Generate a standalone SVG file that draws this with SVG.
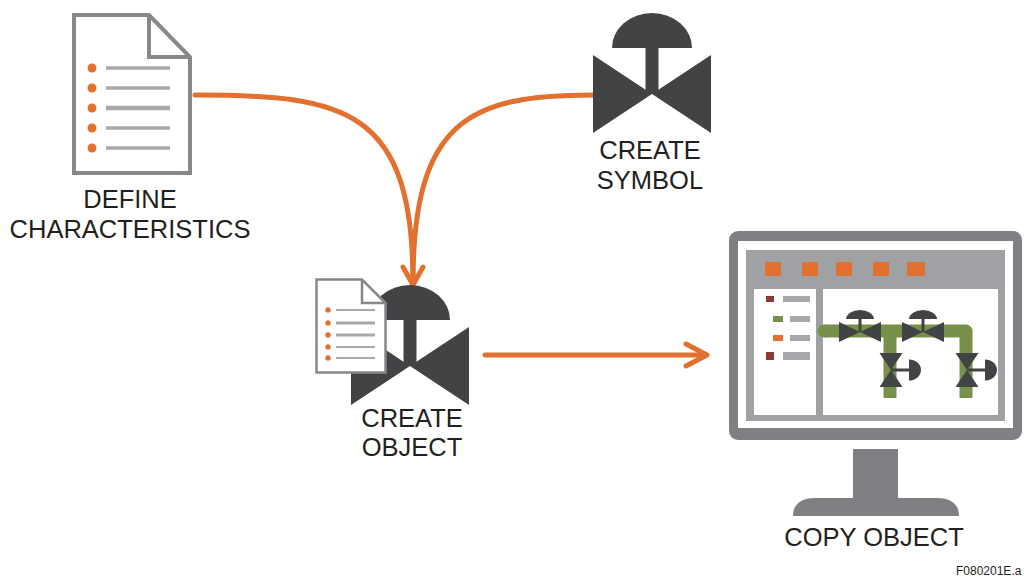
<svg xmlns="http://www.w3.org/2000/svg" xmlns:xlink="http://www.w3.org/1999/xlink" width="1028" height="579" viewBox="0 0 1028 579">
  <style>
    .label { font-family: "Liberation Sans", Arial, sans-serif; font-size: 25.5px; fill: #231f20; text-anchor: middle; }
    .code { font-family: "Liberation Sans", Arial, sans-serif; font-size: 12px; fill: #231f20; }
    .doc { fill: #ffffff; stroke: #87888b; stroke-linejoin: miter; }
    .bullet { fill: #e2712f; }
    .rule { stroke: #a7a8ab; }
    .flow { fill: none; stroke: #e2712f; stroke-width: 5; stroke-linecap: round; stroke-linejoin: round; }
    .valve { fill: #424345; }
    .pipe { fill: none; stroke: #78914a; stroke-width: 13; stroke-linecap: butt; stroke-linejoin: round; }
  </style>
  <defs>
    <!-- large valve symbol, centred on the body apex -->
    <g id="valve-big" class="valve">
      <path d="M-40,-46 A40,35 0 0 1 40,-46 Z"/>
      <rect x="-6.5" y="-47" width="13" height="47"/>
      <path d="M-59,-39 L0,0 L-59,39 Z M59,-39 L0,0 L59,39 Z"/>
    </g>
    <!-- inline valve on a horizontal pipe -->
    <g id="valve-h" class="valve">
      <path d="M-14,-13 A14,9 0 0 1 14,-13 Z"/>
      <rect x="-1.5" y="-13" width="3" height="13"/>
      <path d="M-21,-10 L0,0 L-21,10 Z M21,-10 L0,0 L21,10 Z"/>
    </g>
    <!-- inline valve on a vertical pipe, actuator to the right -->
    <g id="valve-v" class="valve">
      <path d="M18,-10.5 A12,10.5 0 0 1 18,10.5 Z"/>
      <rect x="0" y="-1.5" width="19" height="3"/>
      <path d="M-11.5,-17 L0,0 L11.5,-17 Z M-11.5,17 L0,0 L11.5,17 Z"/>
    </g>
  </defs>

  <rect width="1028" height="579" fill="#ffffff"/>

  <!-- connectors -->
  <g id="connectors">
    <path class="flow" d="M195,95 C345,95 413,108 413,283"/>
    <path class="flow" d="M593,95 C470,95 413,120 413,283"/>
    <path class="flow" d="M403,267 L413,285 L423,267"/>
    <path class="flow" d="M485,355 H705"/>
    <path class="flow" d="M686,344 L707,355 L686,366"/>
  </g>

  <!-- define characteristics -->
  <g id="define-characteristics">
    <path class="doc" stroke-width="4" d="M74,15 H149 L190,57 V173 H74 Z"/>
    <path fill="none" stroke="#87888b" stroke-width="4" d="M149,15 V57 H190"/>
    <g class="bullet">
      <circle cx="92" cy="68" r="4.5"/>
      <circle cx="92" cy="88" r="4.5"/>
      <circle cx="92" cy="108" r="4.5"/>
      <circle cx="92" cy="128" r="4.5"/>
      <circle cx="92" cy="148" r="4.5"/>
    </g>
    <g class="rule">
      <line x1="106" y1="68" x2="170" y2="68" stroke-width="3.5"/>
      <line x1="106" y1="88" x2="170" y2="88" stroke-width="3.5"/>
      <line x1="106" y1="108" x2="170" y2="108" stroke-width="4.5"/>
      <line x1="106" y1="128" x2="170" y2="128" stroke-width="3.5"/>
      <line x1="106" y1="148" x2="170" y2="148" stroke-width="3.5"/>
    </g>
    <text class="label" x="130" y="208">DEFINE</text>
    <text class="label" x="130" y="238">CHARACTERISTICS</text>
  </g>

  <!-- create symbol -->
  <g id="create-symbol">
    <use xlink:href="#valve-big" href="#valve-big" x="652" y="94"/>
    <text class="label" x="650" y="159">CREATE</text>
    <text class="label" x="650" y="189">SYMBOL</text>
  </g>

  <!-- create object -->
  <g id="create-object">
    <use xlink:href="#valve-big" href="#valve-big" x="410" y="366"/>
    <path class="doc" stroke-width="2.5" d="M316.5,279.5 H362 L385.5,303 V372.5 H316.5 Z"/>
    <path fill="none" stroke="#87888b" stroke-width="2.5" d="M362,279.5 V303 H385.5"/>
    <g class="bullet">
      <circle cx="328" cy="310" r="2.7"/>
      <circle cx="328" cy="323" r="2.7"/>
      <circle cx="328" cy="335" r="2.7"/>
      <circle cx="328" cy="347" r="2.7"/>
      <circle cx="328" cy="358" r="2.7"/>
    </g>
    <g class="rule">
      <line x1="336" y1="310" x2="375" y2="310" stroke-width="2"/>
      <line x1="336" y1="323" x2="375" y2="323" stroke-width="3"/>
      <line x1="336" y1="335" x2="375" y2="335" stroke-width="3"/>
      <line x1="336" y1="347" x2="375" y2="347" stroke-width="2"/>
      <line x1="336" y1="358" x2="375" y2="358" stroke-width="2"/>
    </g>
    <text class="label" x="412" y="427">CREATE</text>
    <text class="label" x="412" y="456">OBJECT</text>
  </g>

  <!-- copy object: monitor with process graphic -->
  <g id="copy-object">
    <rect x="729" y="231" width="293" height="209" rx="9" fill="#7f8083"/>
    <rect x="738" y="241" width="275" height="187" fill="#ffffff"/>
    <rect x="746" y="250" width="259" height="171" fill="#a0a1a4"/>
    <g fill="#e2712f">
      <rect x="765" y="262" width="16" height="14"/>
      <rect x="802" y="262" width="16" height="14"/>
      <rect x="836" y="262" width="16" height="14"/>
      <rect x="873" y="262" width="16" height="14"/>
      <rect x="907" y="262" width="18" height="14"/>
    </g>
    <rect x="754" y="289" width="62" height="126" fill="#ffffff"/>
    <rect x="823" y="289" width="175" height="126" fill="#ffffff"/>
    <!-- legend -->
    <rect x="766" y="296" width="8" height="6" fill="#8a3b33"/>
    <rect x="783" y="296" width="27" height="6" fill="#a7a8ab"/>
    <rect x="773" y="316" width="10" height="6" fill="#78914a"/>
    <rect x="790" y="316" width="20" height="6" fill="#a7a8ab"/>
    <rect x="773" y="335" width="10" height="6" fill="#e2712f"/>
    <rect x="790" y="335" width="20" height="6" fill="#a7a8ab"/>
    <rect x="766" y="352" width="8" height="8" fill="#8a3b33"/>
    <rect x="783" y="352" width="27" height="8" fill="#a7a8ab"/>
    <!-- piping -->
    <circle cx="824" cy="331" r="6.5" fill="#78914a"/>
    <path class="pipe" d="M824,331 H966 V398"/>
    <path class="pipe" d="M890,331 V398"/>
    <use xlink:href="#valve-h" href="#valve-h" x="860" y="332"/>
    <use xlink:href="#valve-h" href="#valve-h" x="923" y="332"/>
    <use xlink:href="#valve-v" href="#valve-v" x="891" y="370"/>
    <use xlink:href="#valve-v" href="#valve-v" x="967" y="370"/>
    <!-- stand -->
    <rect x="853" y="449" width="45" height="50" fill="#7f8083"/>
    <path d="M793,516 C793,505 800,498 815,498 H937 C952,498 959,505 959,516 Z" fill="#7f8083"/>
    <text class="label" x="874" y="546">COPY OBJECT</text>
  </g>

  <text class="code" x="956" y="575">F080201E.a</text>
</svg>
